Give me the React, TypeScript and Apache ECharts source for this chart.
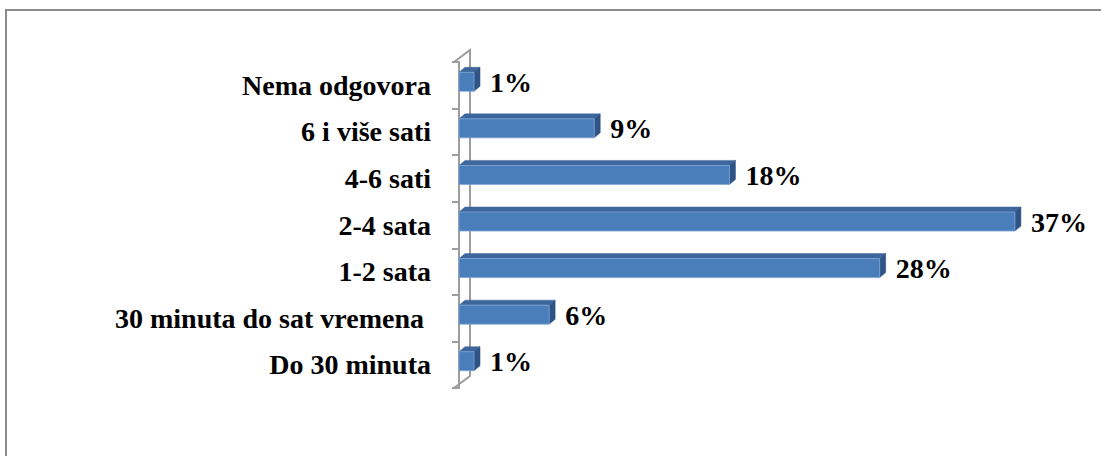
import React, { useEffect, useRef } from "react";
import * as echarts from "echarts";

const categories = [
  "Nema odgovora",
  "6 i više sati",
  "4-6 sati",
  "2-4 sata",
  "1-2 sata",
  "30 minuta do sat vremena ",
  "Do 30 minuta",
];
const values = [1, 9, 18, 37, 28, 6, 1];

const FONT = "Liberation Serif, serif";
const FS = 28;

export default function App() {
  const ref = useRef<HTMLDivElement>(null);
  useEffect(() => {
    document.body.style.margin = "0";
    const chart = echarts.init(ref.current!, undefined, { renderer: "svg" });
    const barData = values.map((v, i) => [v, i]);
    chart.setOption({
      animation: false,
      backgroundColor: "#ffffff",
      graphic: [
        {
          type: "rect",
          shape: { x: 6, y: 10, width: 1300, height: 700 },
          style: { fill: "none", stroke: "#8a8a8a", lineWidth: 2 },
          silent: true,
          z: -10,
        },
      ],
      grid: { left: 459, right: 41, top: 62, height: 326 },
      xAxis: {
        type: "value",
        min: 0,
        max: 40,
        show: false,
        splitLine: { show: false },
      },
      yAxis: {
        type: "category",
        data: categories,
        inverse: true,
        offset: 5,
        axisLine: { show: true, lineStyle: { color: "#9d9d9d", width: 2 } },
        axisTick: { show: true, inside: false, length: 7, lineStyle: { color: "#9d9d9d", width: 2 } },
        axisLabel: {
          margin: 23,
          color: "#000",
          fontFamily: FONT,
          fontWeight: "bold",
          fontSize: FS,
        },
        splitLine: { show: false },
      },
      series: [
        {
          type: "custom",
          name: "walls",
          data: [[0, 0]],
          encode: { x: 0, y: 1 },
          clip: false,
          z: 1,
          silent: true,
          renderItem: (params: any, api: any) => {
            const cs = params.coordSys;
            const x0 = cs.x - 5;
            const top = cs.y;
            const bottom = cs.y + cs.height;
            return {
              type: "polyline",
              shape: {
                points: [
                  [x0, top],
                  [x0 + 16, top - 12],
                  [x0 + 16, bottom - 12],
                  [x0, bottom],
                ],
              },
              style: { fill: "none", stroke: "#9d9d9d", lineWidth: 2 },
            };
          },
        },
        {
          type: "custom",
          name: "bars",
          data: barData,
          encode: { x: 0, y: 1 },
          clip: false,
          z: 2,
          renderItem: (params: any, api: any) => {
            const v = api.value(0);
            const idx = api.value(1);
            const p0 = api.coord([0, idx]);
            const p1 = api.coord([v, idx]);
            const x0 = p0[0];
            const x1 = p1[0];
            const c = p0[1];
            const dx = 6;
            const dy = 5;
            const t = c - 13;
            const b = c + 6;
            return {
              type: "group",
              children: [
                {
                  type: "polygon",
                  shape: { points: [[x0, t], [x0 + dx, t - dy], [x1 + dx, t - dy], [x1, t]] },
                  style: { fill: "#3d679c", stroke: "#3d679c", lineWidth: 0.5 },
                },
                {
                  type: "polygon",
                  shape: { points: [[x1, t], [x1 + dx, t - dy], [x1 + dx, b - dy], [x1, b]] },
                  style: { fill: "#2e5384", stroke: "#2e5384", lineWidth: 0.5 },
                },
                {
                  type: "rect",
                  shape: { x: x0, y: t, width: x1 - x0, height: b - t },
                  style: { fill: "#4a7ebb", stroke: "#7ea4d4", lineWidth: 0.8 },
                },
                {
                  type: "text",
                  x: x1 + dx + 10,
                  y: c - 3,
                  style: {
                    text: v + "%",
                    fontFamily: FONT,
                    fontWeight: "bold",
                    fontSize: FS,
                    fill: "#000",
                    align: "left",
                    verticalAlign: "middle",
                  },
                },
              ],
            };
          },
        },
      ],
    });
    return () => chart.dispose();
  }, []);
  return (
    <div
      ref={ref}
      style={{ position: "fixed", left: 0, top: 0, width: 1101, height: 456 }}
    />
  );
}
